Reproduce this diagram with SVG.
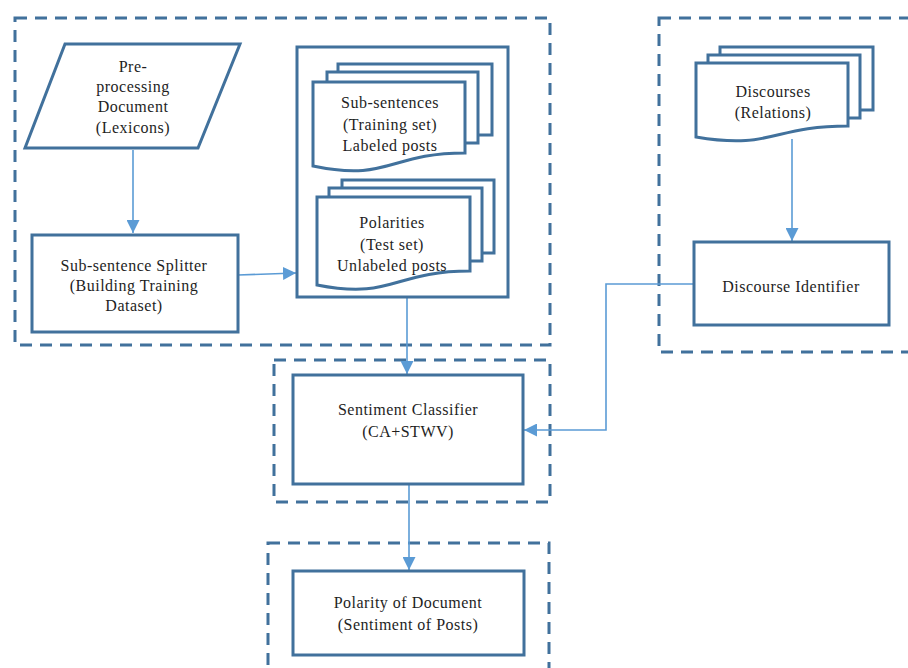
<svg xmlns="http://www.w3.org/2000/svg" width="908" height="668" viewBox="0 0 908 668">
<defs>
<style>
.grp{fill:none;stroke:#41719C;stroke-width:3;stroke-dasharray:12 8}
.box{fill:#fff;stroke:#41719C;stroke-width:3}
.t{font-family:"Liberation Serif","Times New Roman",serif;font-size:16px;letter-spacing:0.5px;fill:#1e1e1e;text-anchor:middle}
.c{fill:none;stroke:#5B9BD5;stroke-width:1.6}
</style>
<marker id="ah" viewBox="0 0 12 12" refX="12" refY="6" markerWidth="13" markerHeight="13" markerUnits="userSpaceOnUse" orient="auto">
<path d="M0,0 L12,6 L0,12 Z" fill="#5B9BD5"/>
</marker>
</defs>
<rect width="908" height="668" fill="#fff"/>

<g id="groups">
<rect class="grp" x="15" y="18" width="535" height="327"/>
<rect class="grp" x="659" y="18" width="260" height="334"/>
<rect class="grp" x="274" y="360" width="276" height="142"/>
<rect class="grp" x="268" y="543" width="281" height="140"/>
</g>

<g id="connectors">
<line class="c" x1="133" y1="150" x2="133" y2="233" marker-end="url(#ah)"/>
<line class="c" x1="238" y1="275" x2="296" y2="273" marker-end="url(#ah)"/>
<line class="c" x1="407" y1="298" x2="407" y2="374" marker-end="url(#ah)"/>
<line class="c" x1="792" y1="139" x2="792" y2="241" marker-end="url(#ah)"/>
<polyline class="c" points="694,284 606,284 606,430 524,430" marker-end="url(#ah)"/>
<line class="c" x1="409" y1="485" x2="409" y2="570" marker-end="url(#ah)"/>
</g>

<g id="preprocessing">
<polygon class="box" points="65,44 240,44 198,148 25,148"/>
<text class="t" x="133" y="72">Pre-</text>
<text class="t" x="133" y="92">processing</text>
<text class="t" x="133" y="112">Document</text>
<text class="t" x="133" y="133">(Lexicons)</text>
</g>

<g id="splitter">
<rect class="box" x="32" y="235" width="206" height="97"/>
<text class="t" x="134" y="271">Sub-sentence Splitter</text>
<text class="t" x="134" y="291">(Building Training</text>
<text class="t" x="134" y="311">Dataset)</text>
</g>

<g id="datasets">
<rect class="box" x="297" y="47" width="211" height="250"/>
<g id="training">
<rect class="box" x="338" y="64" width="154" height="71"/>
<rect class="box" x="327" y="72" width="151" height="71"/>
<path class="box" d="M313,82 H465 V153 C389,153 389,182 313,166 Z"/>
<text class="t" x="390" y="108">Sub-sentences</text>
<text class="t" x="390" y="130">(Training set)</text>
<text class="t" x="390" y="151">Labeled posts</text>
</g>
<g id="test">
<rect class="box" x="342" y="180" width="152" height="73"/>
<rect class="box" x="329" y="188" width="153" height="73"/>
<path class="box" d="M317,197 H470 V271 C393,271 393,300 317,285 Z"/>
<text class="t" x="392" y="228">Polarities</text>
<text class="t" x="392" y="250">(Test set)</text>
<text class="t" x="392" y="271">Unlabeled posts</text>
</g>
</g>

<g id="discourses">
<rect class="box" x="720" y="47" width="153" height="63"/>
<rect class="box" x="708" y="55" width="152" height="63"/>
<path class="box" d="M696,63 H848 V126 C772,126 772,150 696,137 Z"/>
<text class="t" x="773" y="97">Discourses</text>
<text class="t" x="773" y="118">(Relations)</text>
</g>

<g id="identifier">
<rect class="box" x="694" y="242" width="195" height="83"/>
<text class="t" x="791" y="292">Discourse Identifier</text>
</g>

<g id="classifier">
<rect class="box" x="293" y="375" width="230" height="109"/>
<text class="t" x="408" y="415">Sentiment Classifier</text>
<text class="t" x="408" y="437">(CA+STWV)</text>
</g>

<g id="polarity">
<rect class="box" x="293" y="571" width="231" height="84"/>
<text class="t" x="408" y="608">Polarity of Document</text>
<text class="t" x="408" y="630">(Sentiment of Posts)</text>
</g>
</svg>
